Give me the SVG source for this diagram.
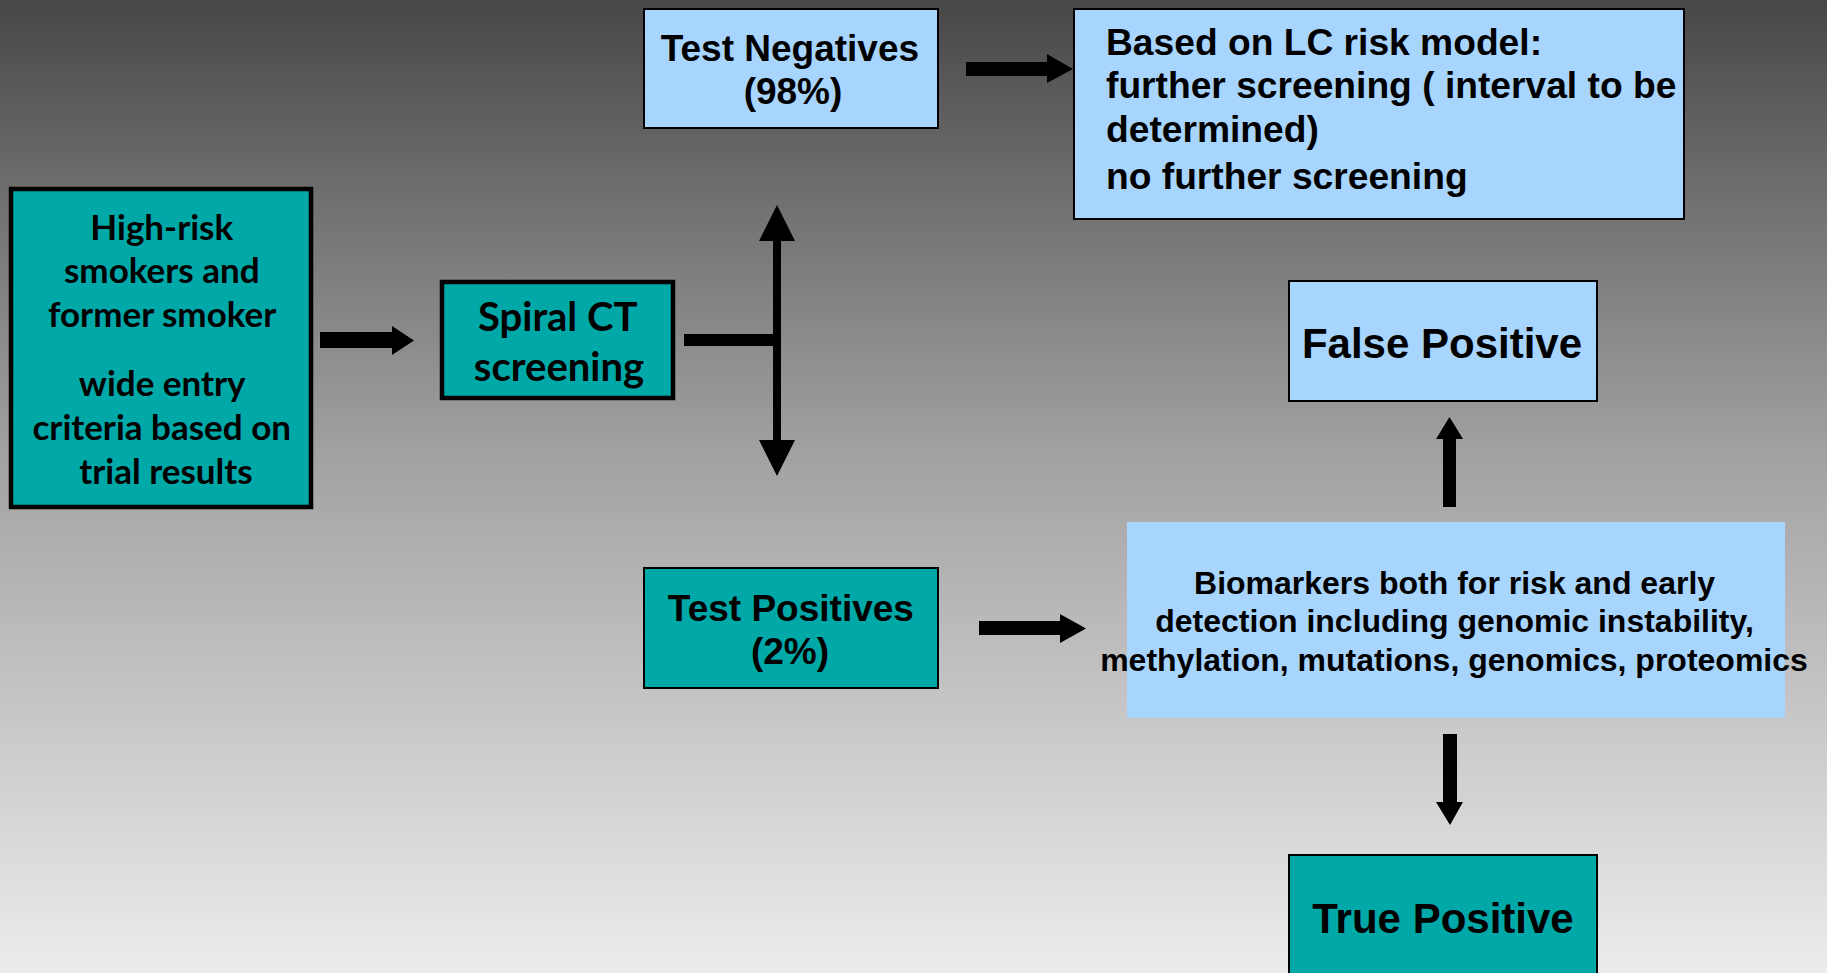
<svg xmlns="http://www.w3.org/2000/svg" width="1827" height="973" viewBox="0 0 1827 973">
  <defs>
    <linearGradient id="bg" x1="0" y1="0" x2="0" y2="1">
      <stop offset="0" stop-color="#474747"/>
      <stop offset="0.2" stop-color="#6f6f6f"/>
      <stop offset="0.47" stop-color="#a2a2a2"/>
      <stop offset="1" stop-color="#ececec"/>
    </linearGradient>
    <style>
      .teal { fill: #00a8a8; }
      .blue { fill: #a8d5fe; }
      .thin { stroke: #000; stroke-width: 2; }
      .thick { stroke: #000; stroke-width: 4.5; }
      .arr { fill: #000; }
      .cal { font-family: Lato, "Open Sans", sans-serif; font-weight: bold; fill: #000; text-anchor: middle; }
      .ari { font-family: "Liberation Sans", Arial, sans-serif; font-weight: bold; fill: #000; }
      .mid { text-anchor: middle; }
    </style>
  </defs>

  <rect x="0" y="0" width="1827" height="973" fill="url(#bg)"/>

  <!-- connectors -->
  <g id="connectors">
    <!-- entry to screening -->
    <polygon class="arr" points="320,332 392,332 392,326 414,340.5 392,355 392,348 320,348"/>
    <!-- screening split -->
    <rect class="arr" x="684" y="334" width="97" height="12"/>
    <rect class="arr" x="773" y="238" width="8" height="205"/>
    <polygon class="arr" points="777,205 795,241 759,241"/>
    <polygon class="arr" points="759,440 795,440 777,476"/>
    <!-- negatives to risk model -->
    <polygon class="arr" points="966,62 1047,62 1047,54 1073,69 1047,83 1047,76 966,76"/>
    <!-- positives to biomarkers -->
    <polygon class="arr" points="979,621 1060,621 1060,614 1086,628.5 1060,643 1060,635 979,635"/>
    <!-- biomarkers to false positive -->
    <polygon class="arr" points="1443,507 1443,439 1436,439 1449.5,417 1463,439 1456,439 1456,507"/>
    <!-- biomarkers to true positive -->
    <polygon class="arr" points="1443,734 1457,734 1457,802 1463,802 1450,825 1436,802 1443,802"/>
  </g>

  <g id="high-risk">
    <rect class="teal thick" x="11" y="189" width="300" height="318"/>
    <text class="cal" font-size="35">
      <tspan x="166" y="240">High-risk</tspan>
      <tspan x="166" y="283">smokers and</tspan>
      <tspan x="166" y="327">former smoker</tspan>
      <tspan x="166" y="396">wide entry</tspan>
      <tspan x="166" y="440">criteria based on</tspan>
      <tspan x="166" y="484">trial results</tspan>
    </text>
  </g>

  <g id="spiral-ct">
    <rect class="teal thick" x="442" y="282" width="231" height="116"/>
    <text class="cal" font-size="40">
      <tspan x="562" y="331">Spiral CT</tspan>
      <tspan x="559" y="381">screening</tspan>
    </text>
  </g>

  <g id="test-negatives">
    <rect class="blue thin" x="644" y="9" width="294" height="119"/>
    <text class="ari mid" font-size="37">
      <tspan x="795" y="61">Test Negatives</tspan>
      <tspan x="793" y="104">(98%)</tspan>
    </text>
  </g>

  <g id="risk-model">
    <rect class="blue thin" x="1074" y="9" width="610" height="210"/>
    <text class="ari" font-size="37.2">
      <tspan x="1106" y="55">Based on LC risk model:</tspan>
      <tspan x="1106" y="98">further screening ( interval to be</tspan>
      <tspan x="1106" y="142">determined)</tspan>
      <tspan x="1106" y="189">no further screening</tspan>
    </text>
  </g>

  <g id="false-positive">
    <rect class="blue thin" x="1289" y="281" width="308" height="120"/>
    <text class="ari mid" font-size="42" x="1442" y="358">False Positive</text>
  </g>

  <g id="biomarkers">
    <rect class="blue" x="1127" y="522" width="658" height="196"/>
    <text class="ari mid" font-size="32">
      <tspan x="1459" y="594">Biomarkers both for risk and early</tspan>
      <tspan x="1459" y="632">detection including genomic instability,</tspan>
      <tspan x="1454" y="671">methylation, mutations, genomics, proteomics</tspan>
    </text>
  </g>

  <g id="test-positives">
    <rect class="teal thin" x="644" y="568" width="294" height="120"/>
    <text class="ari mid" font-size="37">
      <tspan x="796" y="621">Test Positives</tspan>
      <tspan x="790" y="664">(2%)</tspan>
    </text>
  </g>

  <g id="true-positive">
    <rect class="teal thin" x="1289" y="855" width="308" height="130"/>
    <text class="ari mid" font-size="42" x="1443" y="933">True Positive</text>
  </g>
</svg>
